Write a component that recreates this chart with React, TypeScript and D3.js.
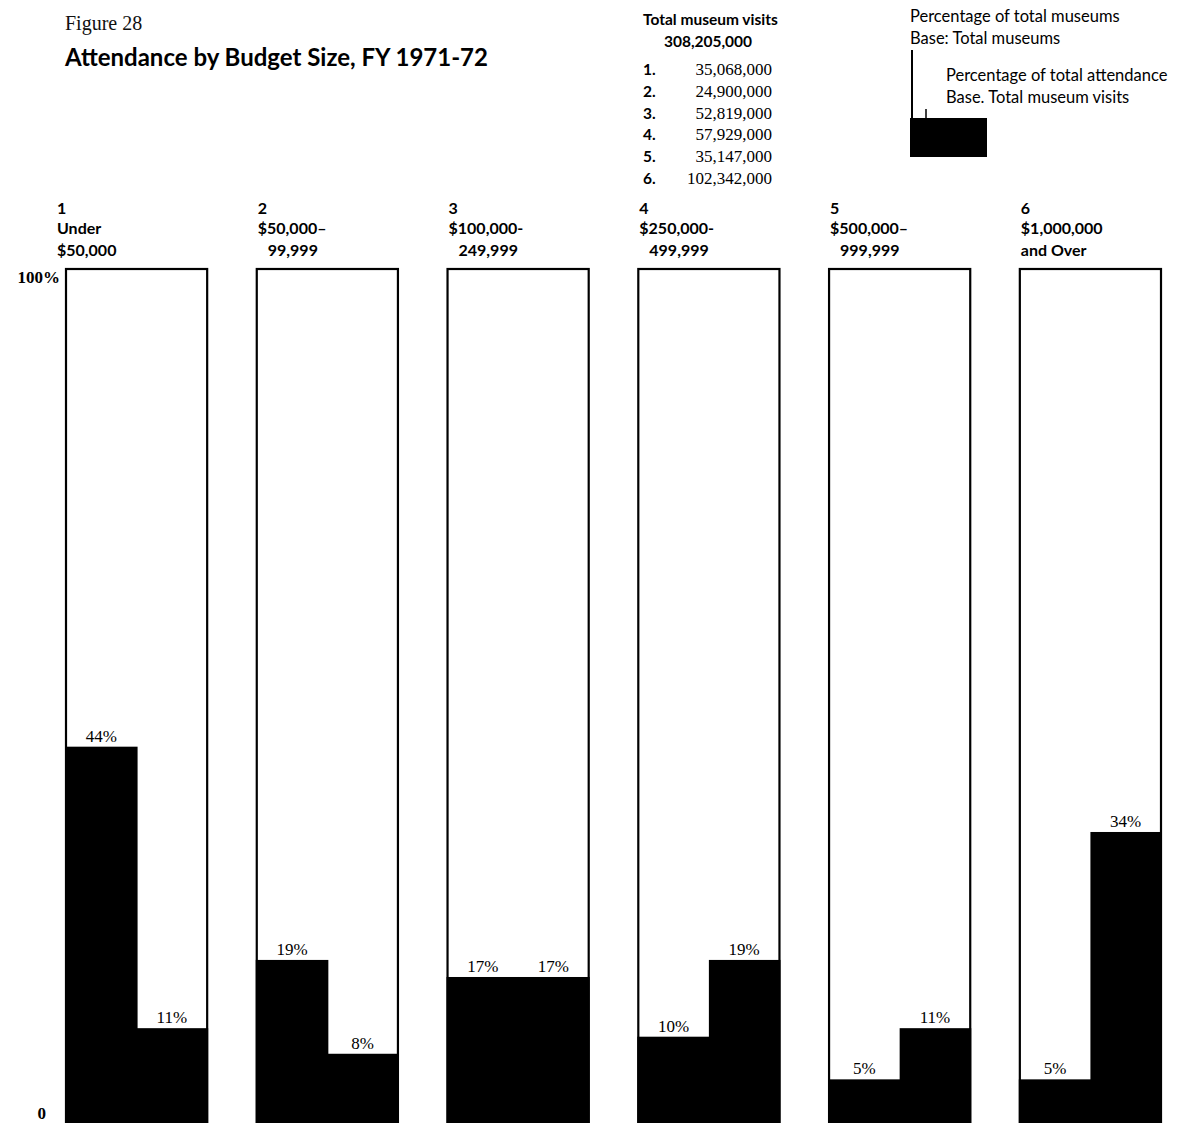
import React from "react";
import * as d3 from "d3";

const categories = ["1", "2", "3", "4", "5", "6"];
const rangeLine1 = ["Under", "$50,000–", "$100,000-", "$250,000-", "$500,000–", "$1,000,000"];
const rangeLine2 = ["$50,000", "99,999", "249,999", "499,999", "999,999", "and Over"];
const pctMuseums = [44, 19, 17, 10, 5, 5];
const pctAttendance = [11, 8, 17, 19, 11, 34];
const visits = ["35,068,000", "24,900,000", "52,819,000", "57,929,000", "35,147,000", "102,342,000"];
const totalVisits = "308,205,000";
const yTicks = [0, 100];

const W = 1180;
const H = 1123;
const SANS = "Lato, 'Open Sans', sans-serif";
const SERIF = "'Liberation Serif', 'DejaVu Serif', serif";

export default function App() {
  const x = d3.scaleBand<string>().domain(categories).range([66, 1161]).paddingInner(0.26).paddingOuter(0);
  const y = d3.scaleLinear().domain([0, 100]).range([1122, 269]);
  const bw = x.bandwidth();

  return (
    <svg width={W} height={H} style={{ position: "absolute", left: 0, top: 0, background: "#fff" }}>
      <rect x={0} y={0} width={W} height={H} fill="#fff" />
      {/* Title */}
      <text x={65} y={30} fontFamily={SERIF} fontSize={20} fill="#111">Figure  28</text>
      <text x={65} y={66} fontFamily={SANS} fontWeight={700} fontSize={24} fill="#000">
        Attendance by Budget Size, FY 1971-72
      </text>

      {/* Visits legend */}
      <text x={643} y={25} fontFamily={SANS} fontWeight={700} fontSize={15.5} fill="#000">Total museum visits</text>
      <text x={708} y={47} textAnchor="middle" fontFamily={SANS} fontWeight={700} fontSize={15.5} fill="#000">{totalVisits}</text>
      {visits.map((v, i) => (
        <g key={"v" + i}>
          <text x={643} y={75 + i * 21.8} fontFamily={SANS} fontWeight={700} fontSize={15.5} fill="#000">{categories[i] + "."}</text>
          <text x={772} y={75 + i * 21.8} textAnchor="end" fontFamily={SERIF} fontSize={17} fill="#000">{v}</text>
        </g>
      ))}

      {/* Key legend */}
      <text x={910} y={22} fontFamily={SANS} fontSize={16.5} fill="#000">Percentage of  total museums</text>
      <text x={910} y={44} fontFamily={SANS} fontSize={16.5} fill="#000">Base:  Total museums</text>
      <text x={946} y={81} fontFamily={SANS} fontSize={16.5} fill="#000">Percentage of total attendance</text>
      <text x={946} y={103} fontFamily={SANS} fontSize={16.5} fill="#000">Base. Total museum visits</text>
      <line x1={912} x2={912} y1={50} y2={119} stroke="#000" strokeWidth={2} />
      <line x1={926} x2={926} y1={109} y2={119} stroke="#000" strokeWidth={1.5} />
      <rect x={910} y={118} width={77} height={39} fill="#000" />

      {/* Y axis labels */}
      {yTicks.map((t) => (
        <text key={"t" + t} x={t === 0 ? 46 : 60} y={t === 0 ? y(t) - 3 : y(t) + 14} textAnchor="end" fontFamily={SERIF} fontWeight={700} fontSize={17} fill="#000">
          {t === 0 ? "0" : t + "%"}
        </text>
      ))}

      {/* Panels */}
      {categories.map((c, i) => {
        const x0 = x(c)!;
        const half = bw / 2;
        const lx = i === 0 ? x0 - 9 : x0 + 1;
        const indent = /[-–]$/.test(rangeLine1[i]) ? 10 : 0;
        return (
          <g key={"p" + c}>
            <text x={lx} y={214} fontFamily={SANS} fontWeight={700} fontSize={16} fill="#000">{c}</text>
            <text x={lx} y={234} fontFamily={SANS} fontWeight={700} fontSize={16} fill="#000">{rangeLine1[i]}</text>
            <text x={lx + indent} y={256} fontFamily={SANS} fontWeight={700} fontSize={16} fill="#000">{rangeLine2[i]}</text>
            <rect x={x0} y={y(100)} width={bw} height={H + 5 - y(100)} fill="#fff" stroke="#000" strokeWidth={2.2} />
            <rect x={x0 - 1} y={y(pctMuseums[i])} width={half + 2} height={H + 5 - y(pctMuseums[i])} fill="#000" />
            <rect x={x0 + half} y={y(pctAttendance[i])} width={half + 1} height={H + 5 - y(pctAttendance[i])} fill="#000" />
            <text x={x0 + half / 2} y={y(pctMuseums[i]) - 5} textAnchor="middle" fontFamily={SERIF} fontSize={17} fill="#000">
              {pctMuseums[i] + "%"}
            </text>
            <text x={x0 + half * 1.5} y={y(pctAttendance[i]) - 5} textAnchor="middle" fontFamily={SERIF} fontSize={17} fill="#000">
              {pctAttendance[i] + "%"}
            </text>
          </g>
        );
      })}
    </svg>
  );
}
